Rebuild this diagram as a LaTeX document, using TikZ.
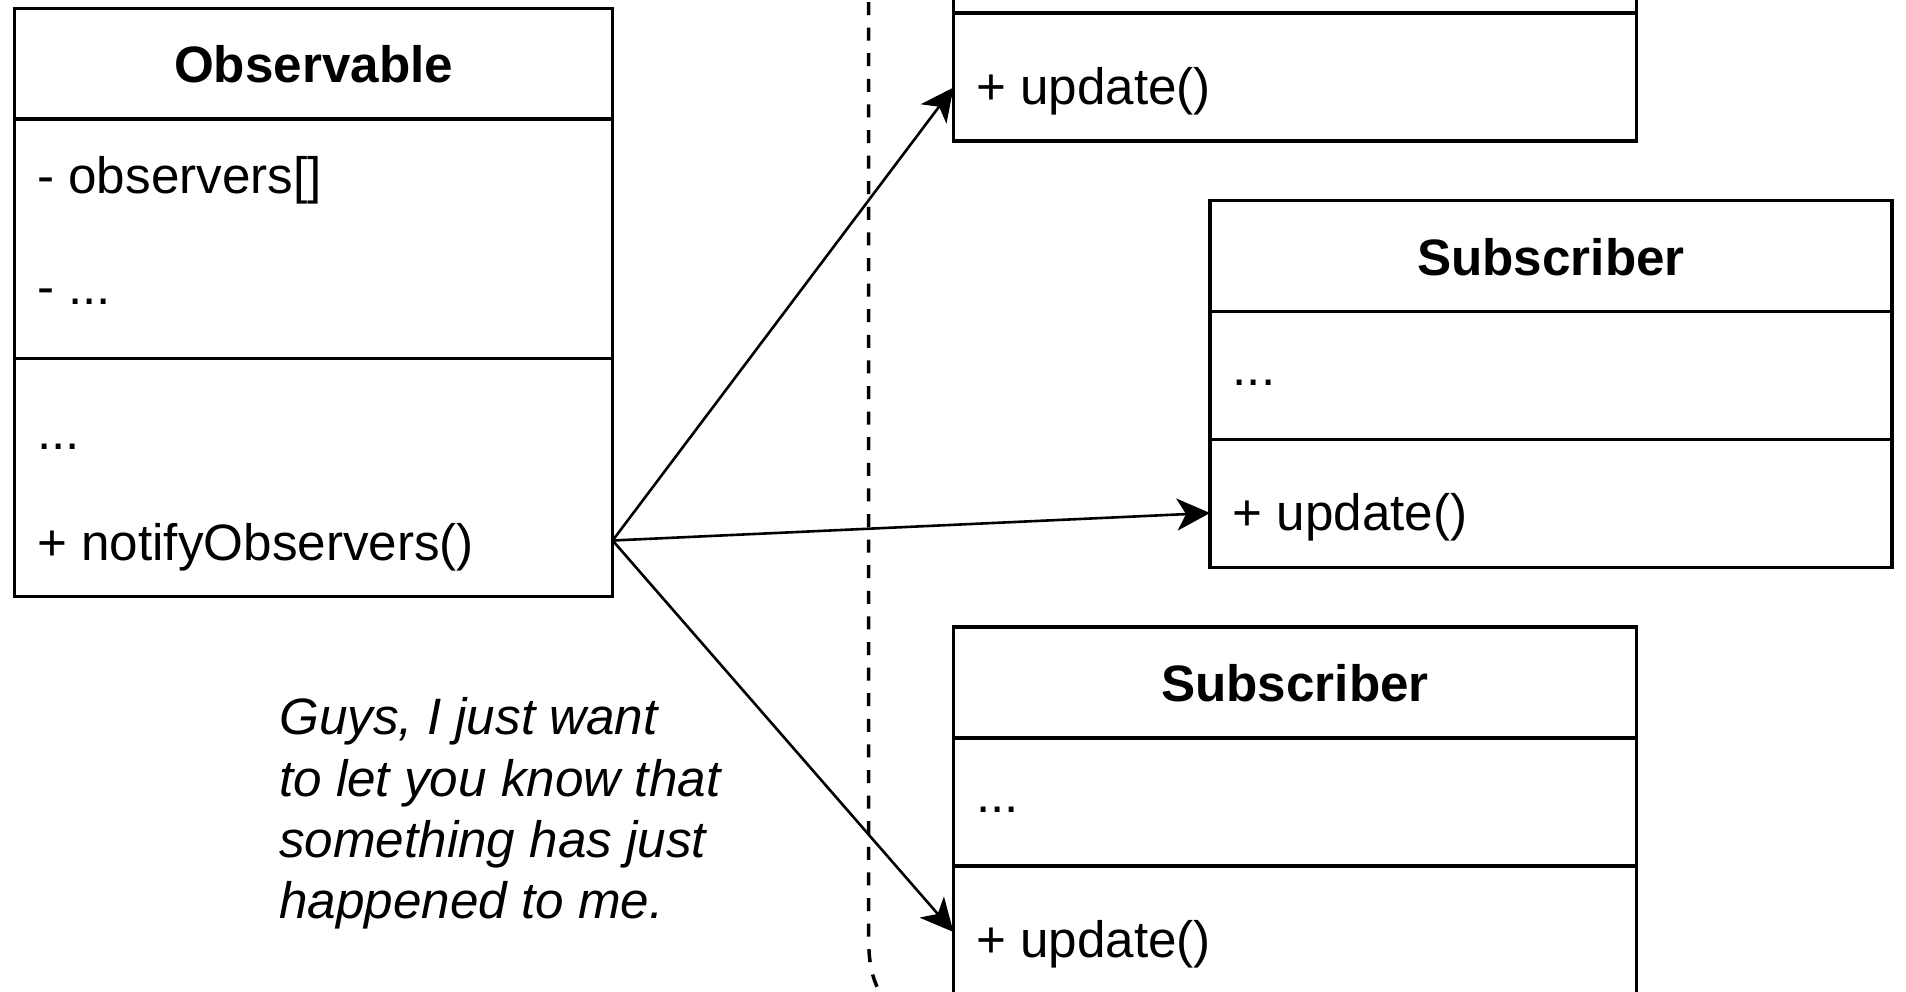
\documentclass[tikz,border=0pt]{standalone}
\usepackage{fontspec}
\setmainfont{Liberation Sans}
\usetikzlibrary{arrows.meta}

\begin{document}
\begin{tikzpicture}[x=1pt, y=-1pt,
  classbox/.style={draw, line width=3.5pt, fill=white, inner sep=0pt, outer sep=0pt,
                   anchor=north west, minimum height=366.7pt, minimum width=683pt},
  divider/.style={line width=3.5pt},
  title/.style={anchor=base, inner sep=0pt, font=\fontsize{51.2}{61.4}\selectfont\bfseries},
  member/.style={anchor=base west, inner sep=0pt, font=\fontsize{51.2}{61.4}\selectfont},
  note/.style={anchor=north west, inner sep=0pt, align=left,
               font=\fontsize{51.2}{61.2}\selectfont\itshape},
  msg/.style={line width=2.6pt, -{Stealth[length=33pt,width=32pt,inset=9pt]}},
  boundary/.style={line width=3.5pt, dash pattern=on 13pt off 12.6pt, dash phase=23.6pt}
]
\useasboundingbox (0,0) rectangle (1906,991);
\clip (0,0) rectangle (1906,991);

% boundary between the subject and its subscribers
\draw[boundary] (868.7,0) -- (868.7,940) .. controls (868.7,962) and (872,977) .. (879,991);

% ---------- Observable ----------
\node[classbox, minimum width=598pt, minimum height=588.4pt] (obs) at (14.6,8.3) {};
\draw[divider] (obs.west |- 0,119.2) -- (obs.east |- 0,119.2);
\draw[divider] (obs.west |- 0,358.6) -- (obs.east |- 0,358.6);
\node[title]  (obsName)   at (313.6,82.5)  {Observable};
\node[member] (obsField1) at (37.1,193.5)  {- observers[]};
\node[member] (obsField2) at (37.1,304.4)  {- ...};
\node[member] (obsOp1)    at (37.1,449.3)  {...};
\node[member] (obsOp2)    at (37.1,560.1)  {+ notifyObservers()};

% ---------- Subscriber (top, partly out of view) ----------
\node[classbox] (sub1) at (953.5,-225.7) {};
\draw[divider] (sub1.west |- 0,-114.8) -- (sub1.east |- 0,-114.8);
\draw[divider] (sub1.west |- 0,13.1) -- (sub1.east |- 0,13.1);
\node[member] (sub1Op) at (976,104.4) {+ update()};

% ---------- Subscriber (middle) ----------
\node[classbox, minimum width=682pt] (sub2) at (1210,200.7) {};
\draw[divider] (sub2.west |- 0,311.6) -- (sub2.east |- 0,311.6);
\draw[divider] (sub2.west |- 0,439.5) -- (sub2.east |- 0,439.5);
\node[title]  (sub2Name)  at (1551,275)     {Subscriber};
\node[member] (sub2Field) at (1232.5,385.9) {...};
\node[member] (sub2Op)    at (1232.5,530.8) {+ update()};

% ---------- Subscriber (bottom) ----------
\node[classbox] (sub3) at (953.5,627.2) {};
\draw[divider] (sub3.west |- 0,738.1) -- (sub3.east |- 0,738.1);
\draw[divider] (sub3.west |- 0,866) -- (sub3.east |- 0,866);
\node[title]  (sub3Name)  at (1295,701.5)  {Subscriber};
\node[member] (sub3Field) at (976,812.4)   {...};
\node[member] (sub3Op)    at (976,957.3)   {+ update()};

% ---------- comment of the subject ----------
\node[note] (remark) at (279,697.6)
  {Guys, I just want\\to let you know that\\something has just\\happened to me.};

% ---------- notifications ----------
\coordinate (notify) at (obs.east |- 0,540.5);
\draw[msg] (notify) -- (sub1.west |- 0,87.5);
\draw[msg] (notify) -- (sub2.west |- 0,513);
\draw[msg] (notify) -- (sub3.west |- 0,932);
\end{tikzpicture}
\end{document}
